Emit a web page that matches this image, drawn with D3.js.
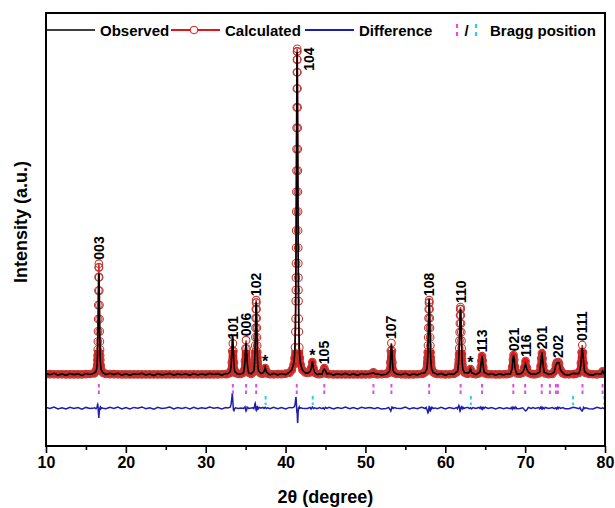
<!DOCTYPE html>
<html><head><meta charset="utf-8">
<script src="https://cdn.jsdelivr.net/npm/d3@7"></script>
<style>
body{margin:0;background:#fff;}
text{font-family:Arial,"Liberation Sans",sans-serif;font-weight:bold;fill:#000;}
</style>
</head><body>
<svg id="chart" width="615" height="508"></svg>
<script>
// ---------------- DATA ----------------
const twoTheta = [
  10,10.5,11,11.5,12,12.5,13,13.5,14,14.5,15,15.5,16,
  16.08,16.26,16.35,16.404,16.44,16.458,16.476,16.494,16.512,16.53,16.548,16.566,16.584,16.602,16.62,16.638,16.656,16.674,16.692,16.71,16.728,16.746,16.764,16.782,16.80,16.836,16.89,16.98,17.16,
  17.5,18,18.5,19,19.5,20,20.5,21,21.5,22,22.5,23,23.5,24,24.5,25,25.5,26,26.5,27,27.5,28,28.5,29,29.5,30,30.5,31,31.5,32,32.5,
  32.74,33.07,33.18,33.27,33.33,33.40,33.47,33.53,33.62,33.73,34.06,
  34.39,34.72,34.83,34.92,34.98,35.05,35.12,35.18,35.27,35.38,35.71,
  35.92,36.02,36.08,36.12,36.14,36.16,36.18,36.20,36.22,36.24,36.26,36.28,36.30,36.32,36.34,36.36,36.38,36.40,36.42,36.44,36.46,36.48,36.50,36.52,36.56,36.62,36.72,36.92,
  37.15,37.30,37.45,37.60,37.75,38.05,
  38.5,39,39.5,40,40.5,
  40.79,41.01,41.12,41.186,41.23,41.252,41.274,41.285,41.296,41.307,41.318,41.329,41.34,41.351,41.362,41.373,41.384,41.395,41.406,41.417,41.428,41.439,
  41.45,
  41.461,41.472,41.483,41.494,41.505,41.516,41.527,41.538,41.549,41.56,41.571,41.582,41.593,41.604,41.615,41.626,41.648,41.67,41.714,41.78,41.89,42.11,
  42.45,
  42.75,43.05,43.20,43.35,43.50,43.65,43.95,
  44.25,44.55,44.70,44.85,45.00,45.15,45.45,
  46,46.5,47,47.5,48,48.5,49,49.5,50,50.5,
  50.75,51.0,51.25,
  51.5,52.0,
  52.59,52.92,53.03,53.12,53.18,53.25,53.32,53.38,53.47,53.58,53.91,
  54.5,55,55.5,56,56.5,57,
  57.23,57.48,57.605,57.68,57.73,57.755,57.78,57.805,57.83,57.855,57.88,57.905,57.93,57.955,57.98,58.005,58.03,58.055,58.08,58.105,58.13,58.155,58.18,58.205,58.23,58.28,58.355,58.48,58.73,
  59,59.5,60,60.5,61,
  61.15,61.40,61.525,61.60,61.65,61.675,61.70,61.725,61.75,61.775,61.80,61.825,61.85,61.875,61.90,61.925,61.95,61.975,62.00,62.025,62.05,62.075,62.10,62.125,62.15,62.20,62.275,62.40,62.65,
  62.85,63.00,63.15,63.30,63.45,
  63.82,64.21,64.34,64.44,64.52,64.60,64.68,64.76,64.86,64.99,65.38,
  65.8,66.3,66.8,67.3,
  67.71,68.13,68.27,68.38,68.47,68.55,68.63,68.72,68.83,68.97,69.35,
  69.70,69.875,70.05,70.225,70.40,70.75,
  71.0,
  71.26,71.68,71.82,71.93,72.02,72.10,72.18,72.27,72.38,72.52,72.94,
  73.40,73.65,73.85,73.95,74.05,74.15,74.25,74.45,74.70,75.00,
  75.5,76.0,
  76.31,76.73,76.87,76.98,77.07,77.15,77.23,77.32,77.43,77.57,77.99,
  78.5,79.0,79.5,79.7,79.9,80.0
];
const observed = [
  1225,1190,1234,1178,1213,1172,1227,1192,1216,1166,1225,1197,1235,
  1258,1282,1385,1522,1735,1891,2085,2310,2583,2900,3248,3624,3985,4228,4300,4268,4035,3674,3268,2860,2503,2210,1975,1781,1635,1502,1355,1312,1243,
  1195,1233,1195,1233,1177,1216,1170,1220,1195,1235,1180,1210,1165,1225,1185,1205,1230,1175,1215,1190,1220,1170,1225,1180,1210,1185,1230,1196,1222,1179,1223,
  1218,1278,1444,1870,2379,2350,1859,1490,1304,1258,1203,
  1215,1243,1358,1648,1965,2160,1935,1638,1358,1243,1220,
  1278,1299,1409,1559,1680,1833,2017,2237,2460,2707,2956,3182,3345,3410,3355,3172,2926,2647,2375,2127,1902,1723,1585,1479,1404,1304,1288,1227,
  1245,1285,1415,1280,1235,1186,
  1228,1185,1225,1190,1270,
  1350,1520,1760,2150,2710,3160,3750,4110,4510,4940,5390,5880,6400,6960,7560,8170,8770,9360,9900,10370,10720,11000,
  11100,
  10940,10620,10160,9580,8960,8310,7700,7110,6530,6000,5470,4990,4540,4130,3780,3470,2910,2490,2060,1690,1510,1335,
  1245,
  1235,1282,1367,1610,1375,1260,1191,
  1221,1205,1305,1360,1315,1215,1231,
  1177,1220,1190,1230,1180,1215,1170,1225,1195,1223,
  1225,1250,1205,
  1218,1181,
  1203,1268,1296,1513,1837,2120,1957,1593,1316,1263,1208,
  1188,1231,1175,1211,1184,1237,
  1242,1253,1334,1359,1439,1505,1603,1742,1937,2200,2507,2836,3142,3425,3520,3435,3212,2916,2587,2270,2007,1817,1673,1580,1509,1374,1334,1258,1237,
  1192,1229,1171,1218,1202,
  1219,1277,1284,1402,1521,1619,1746,1875,2045,2235,2456,2697,2917,3112,3210,3172,3017,2787,2536,2265,2025,1815,1636,1544,1481,1352,1319,1252,1249,
  1241,1265,1370,1255,1236,
  1193,1248,1263,1448,1604,1770,1594,1438,1263,1253,1193,
  1224,1176,1216,1184,
  1218,1210,1292,1400,1672,1780,1667,1415,1307,1210,1215,
  1264,1365,1520,1355,1274,1202,
  1220,
  1199,1248,1265,1478,1677,1880,1672,1463,1260,1253,1199,
  1230,1270,1490,1530,1565,1565,1555,1320,1255,1190,
  1183,1231,
  1223,1225,1333,1510,1801,2010,1831,1570,1303,1255,1193,
  1179,1227,1210,1300,1220,1230
];
const calculated = [
  1205,1205,1204,1203,1203,1202,1202,1202,1201,1201,1205,1212,1230,
  1248,1302,1370,1482,1645,1781,1965,2210,2523,2900,3328,3774,4185,4488,4600,4488,4185,3774,3328,2900,2523,2210,1965,1781,1645,1482,1370,1302,1248,
  1215,1208,1205,1203,1202,1201,1200,1200,1200,1200,1200,1200,1200,1200,1200,1200,1200,1200,1200,1200,1200,1200,1200,1200,1200,1200,1200,1201,1202,1204,1208,
  1213,1248,1324,1570,1919,2150,1919,1570,1324,1248,1213,
  1215,1253,1338,1608,1995,2250,1995,1608,1338,1253,1215,
  1268,1314,1389,1499,1590,1713,1877,2087,2340,2627,2926,3202,3405,3480,3405,3202,2926,2627,2340,2087,1877,1713,1590,1499,1389,1314,1268,1232,
  1225,1295,1390,1295,1225,1206,
  1203,1205,1210,1220,1250,
  1340,1500,1700,2030,2510,2910,3450,3790,4170,4610,5090,5620,6200,6810,7460,8120,8770,9400,9980,10480,10870,11120,
  11200,
  11120,10870,10480,9980,9400,8770,8120,7460,6810,6200,5620,5090,4610,4170,3790,3450,2910,2510,2030,1700,1500,1340,
  1260,
  1245,1262,1392,1580,1390,1250,1211,
  1206,1225,1295,1390,1295,1225,1206,
  1202,1200,1200,1200,1200,1200,1200,1200,1200,1203,
  1215,1260,1215,
  1203,1206,
  1213,1248,1326,1573,1927,2160,1927,1573,1326,1248,1213,
  1203,1201,1200,1201,1204,1212,
  1232,1268,1314,1389,1499,1590,1713,1877,2087,2340,2627,2926,3202,3405,3480,3405,3202,2926,2627,2340,2087,1877,1713,1590,1499,1389,1314,1268,1232,
  1212,1204,1201,1203,1212,
  1229,1262,1304,1372,1471,1554,1666,1815,2005,2235,2496,2767,3017,3202,3270,3202,3017,2767,2496,2235,2005,1815,1666,1554,1471,1372,1304,1262,1229,
  1221,1280,1360,1280,1221,
  1208,1228,1273,1418,1624,1760,1624,1418,1273,1228,1208,
  1204,1201,1201,1204,
  1208,1230,1277,1430,1647,1790,1647,1430,1277,1230,1225,
  1254,1405,1610,1405,1254,1212,
  1205,
  1209,1233,1285,1453,1692,1850,1692,1453,1285,1233,1209,
  1215,1290,1480,1560,1545,1580,1530,1330,1240,1210,
  1203,1206,
  1213,1245,1318,1550,1881,2100,1881,1550,1318,1245,1213,
  1204,1202,1225,1290,1235,1215
];
const braggPhase1 = [16.62,33.40,35.05,36.32,41.40,44.85,51.0,53.25,57.98,61.92,64.60,68.52,70.00,72.08,73.10,73.85,74.10,77.18,79.70];
const braggPhase2 = [37.50,43.40,63.20,76.00,79.92];
const peakLabels    = ["003","101","006","102","104","105","107","108","110","113","021","116","201","202","0111"];
const peakPositions = [16.62,33.40,35.05,36.32,41.45,44.85,53.25,57.98,61.90,64.60,68.55,70.05,72.10,74.10,77.15];
const impurityPositions = [37.45,43.35,63.15];
const xTicks = [10,20,30,40,50,60,70,80];
const xMinorTicks = [15,25,35,45,55,65,75];
const seriesNames = ["Observed","Calculated","Difference","Bragg position"];
const axisTitles = {x:"2θ (degree)", y:"Intensity (a.u.)"};

// ---------------- LAYOUT ----------------
const pL=46, pR=605, pT=13, pB=446;
const x = d3.scaleLinear().domain([10,80]).range([pL,pR]);
const y = d3.scaleLinear().domain([-1000,12300]).range([pB,pT]);
const diffOffset = 165;
const colors = {obs:"#000", calc:"#e3161c", circle:"#bd3a34", diff:"#1d1db0", b1:"#e050e0", b2:"#33cfe0"};

if (twoTheta.length!==observed.length || twoTheta.length!==calculated.length)
  console.error("length mismatch", twoTheta.length, observed.length, calculated.length);

const svg = d3.select("#chart");
const defs = svg.append("defs");
defs.append("clipPath").attr("id","plotclip").append("rect")
  .attr("x",pL).attr("y",pT).attr("width",pR-pL).attr("height",pB-pT);
defs.append("clipPath").attr("id","bandclip").append("rect")
  .attr("x",pL).attr("y",350).attr("width",pR-pL).attr("height",pB-350);

const pts = twoTheta.map((t,i)=>({t, o:observed[i], c:calculated[i], d:observed[i]-calculated[i]}));

const g = svg.append("g").attr("clip-path","url(#plotclip)");
const lineC = d3.line().x(d=>x(d.t)).y(d=>y(d.c));
const lineO = d3.line().x(d=>x(d.t)).y(d=>y(d.o));
const lineD = d3.line().x(d=>x(d.t)).y(d=>y(d.d+diffOffset));

// dense calculated markers merge into a red band near the background
g.append("path").datum(pts).attr("clip-path","url(#bandclip)")
  .attr("d",lineC).attr("fill","none").attr("stroke",colors.calc)
  .attr("stroke-width",7).attr("stroke-linejoin","round").attr("stroke-linecap","round");
g.append("path").datum(pts).attr("d",lineC).attr("fill","none")
  .attr("stroke",colors.calc).attr("stroke-width",1.5);
g.selectAll("circle.calc").data(pts).join("circle").attr("class","calc")
  .attr("cx",d=>x(d.t)).attr("cy",d=>y(d.c)).attr("r",3.8)
  .attr("fill","none").attr("stroke",colors.circle).attr("stroke-width",1.1);
g.append("path").datum(pts).attr("d",lineO).attr("fill","none")
  .attr("stroke",colors.obs).attr("stroke-width",1.6);
g.append("path").datum(pts).attr("d",lineD).attr("fill","none")
  .attr("stroke",colors.diff).attr("stroke-width",1.5);

// Bragg positions
g.selectAll("line.b1").data(braggPhase1).join("line").attr("class","b1")
  .attr("x1",d=>x(d)).attr("x2",d=>x(d)).attr("y1",384).attr("y2",394)
  .attr("stroke",colors.b1).attr("stroke-width",2).attr("stroke-dasharray","3.5,3");
g.selectAll("line.b2").data(braggPhase2).join("line").attr("class","b2")
  .attr("x1",d=>x(d)).attr("x2",d=>x(d)).attr("y1",396).attr("y2",405)
  .attr("stroke",colors.b2).attr("stroke-width",2).attr("stroke-dasharray","3.5,3");

// peak labels
function calcTop(t, w){
  let m=-Infinity;
  pts.forEach(p=>{ if(Math.abs(p.t-t)<=w) m=Math.max(m,p.c); });
  return m;
}
peakLabels.forEach((lab,i)=>{
  const t=peakPositions[i];
  const ty=y(calcTop(t,0.2));
  let px=x(t), py=ty-4;
  const len=lab.length*0.556*14;
  if (py-len < 45){ px+=12; py=ty+22; }
  svg.append("text").attr("transform",`translate(${px},${py}) rotate(-90)`)
    .attr("dy","0.36em").attr("font-size",14).text(lab);
});
impurityPositions.forEach(t=>{
  svg.append("text").attr("x",x(t)).attr("y",y(calcTop(t,0.2))-1)
    .attr("text-anchor","middle").attr("font-size",16).text("*");
});

// axes
const ax = svg.append("g").attr("transform",`translate(0,${pB})`)
  .call(d3.axisBottom(x).tickValues(xTicks).tickSize(7).tickFormat(d3.format("d")));
ax.select(".domain").remove();
ax.selectAll(".tick line").attr("stroke","#000").attr("stroke-width",1.6);
ax.selectAll(".tick text").attr("dy",null).attr("y",22).attr("font-size",16)
  .style("font-family","Arial, 'Liberation Sans', sans-serif").style("font-weight","bold").attr("fill","#000");
const axm = svg.append("g").attr("transform",`translate(0,${pB})`)
  .call(d3.axisBottom(x).tickValues(xMinorTicks).tickSize(4).tickFormat(""));
axm.select(".domain").remove();
axm.selectAll(".tick line").attr("stroke","#000").attr("stroke-width",1.6);

svg.append("rect").attr("x",pL).attr("y",pT).attr("width",pR-pL).attr("height",pB-pT)
  .attr("fill","none").attr("stroke","#000").attr("stroke-width",2);

svg.append("text").attr("x",(pL+pR)/2).attr("y",503).attr("text-anchor","middle")
  .attr("font-size",18).text(axisTitles.x);
svg.append("text").attr("transform","translate(27,222) rotate(-90)").attr("text-anchor","middle")
  .attr("font-size",18).text(axisTitles.y);

// legend
const ly=30, lg=svg.append("g");
lg.append("line").attr("x1",pL).attr("x2",95).attr("y1",ly).attr("y2",ly).attr("stroke","#000").attr("stroke-width",1.5);
lg.append("text").attr("x",100).attr("y",ly+5.5).attr("font-size",15).text(seriesNames[0]);
lg.append("line").attr("x1",171).attr("x2",220).attr("y1",ly).attr("y2",ly).attr("stroke",colors.calc).attr("stroke-width",2);
lg.append("circle").attr("cx",194).attr("cy",ly).attr("r",3.8).attr("fill","#fff").attr("stroke",colors.calc).attr("stroke-width",1);
lg.append("text").attr("x",225).attr("y",ly+5.5).attr("font-size",15).text(seriesNames[1]);
lg.append("line").attr("x1",305).attr("x2",354).attr("y1",ly).attr("y2",ly).attr("stroke",colors.diff).attr("stroke-width",1.8);
lg.append("text").attr("x",359).attr("y",ly+5.5).attr("font-size",15).text(seriesNames[2]);
lg.append("line").attr("x1",457).attr("x2",457).attr("y1",ly-6).attr("y2",ly+6)
  .attr("stroke",colors.b1).attr("stroke-width",2.2).attr("stroke-dasharray","4,4");
lg.append("text").attr("x",466.5).attr("y",ly+5.5).attr("text-anchor","middle").attr("font-size",15).text("/");
lg.append("line").attr("x1",476).attr("x2",476).attr("y1",ly-6).attr("y2",ly+6)
  .attr("stroke",colors.b2).attr("stroke-width",2.2).attr("stroke-dasharray","4,4");
lg.append("text").attr("x",490).attr("y",ly+5.5).attr("font-size",15).text(seriesNames[3]);
</script>
</body></html>
